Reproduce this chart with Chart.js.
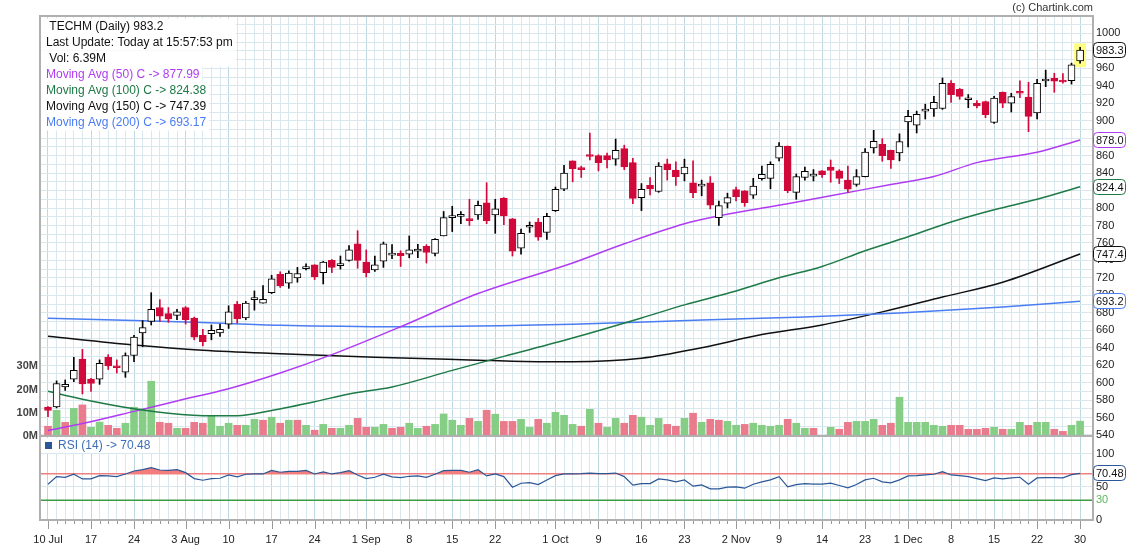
<!DOCTYPE html>
<html><head><meta charset="utf-8">
<script src="https://cdn.jsdelivr.net/npm/chart.js@4.4.0/dist/chart.umd.min.js"></script>
<style>
html,body{margin:0;padding:0;background:#fff;}
#wrap{position:relative;width:1127px;height:551px;overflow:hidden;background:#fff;}
canvas{position:absolute;left:0;}
#c1{top:0;}
#c2{top:436px;}
</style></head><body>
<div id="wrap"><canvas id="c1" width="1127" height="451"></canvas><canvas id="c2" width="1127" height="115"></canvas></div>
<script>
// ---------- DATA (TECHM daily, 10 Jul - 30 Dec) ----------
const opens = [572,572,595,604,627,604,604,629,618,612,
631,657,670,686,679,677,686,674,654,656,
657,667,690,674,695,691,703,724,714,720,
730.5,735,726,740,734,740,759,738,729,739,
746,748,747,750.5,756,748,768,789,790.5,787,
792,806,792,811.5,787.5,754,778,784,772,797,
821.5,854,846,861,860,860,856,868,852,812,
826,819,850.5,843.6,839,829,825,829,789,805.5,
821,819.6,814.6,833.7,834,857,871,818,835,836.5,
842.5,847,842.5,832,827,836,869,873,866,863,
898.6,895,911,913.5,914,943,936,924,920,922,
898,932.6,920,933,927,909,945.5,948.7,945.6,946,
968.5];
const highs = [572.5,602,603,629,638,605,626,632,626,634,
654,671,703,695,686,684,687,675,661,666,
667,688,693,693,705,711,723,727,728,732,
736,735,739,741,745,757,774,752,745,761,
758,751,768,758.5,758,765,796,802,796,810,
808,829,810,812,788,776,784,788,794,824,
849,854,848,886,861,863,879,872,857,828,
835,852,856,853,856,854,832,836,808,817,
824,820,834,848,853,875,871,839,847,844,
843,855,844,848,844,868,889,879.5,866.5,885,
912,911,919,928,949,946,937,930,923,922.5,
928,933,931.5,945.6,944,947.5,958,954.4,954,966,
984];
const lows = [561,571,591,601,587,590,598,615,611,606,
624,641,666,670,669,672,667,649,642,649,
653,662,668,672,683,691,702,709,708,715,
729,718,713,726,730,739,731,721,727.5,732,
742,733,743,743,737,745,768,773,782,780,
787,782,771,781,745,747,772,763,764,796,
820,830,835,855,842.5,846,849,844,805,797,
815,818,832,826,831,812,814,799,780,800,
808,802,811,832,822,854,817.6,810,832,831,
835,829.5,828,818,825,835.5,863,853.6,845.5,854,
870,886,902,905,913,921,924.6,915,914.6,903.5,
897,915,910,926.5,887.5,902,939,932.6,943,942,
966];
const closes = [568,599,598,614,598.5,599,622,619,617,631,
652,663,684,676,673,681,672,652,647,660,
661,681,673,691,696,695.5,719,711,725.5,725,
731,721,738,732,734.5,752,740,726,735,759,
747,745.5,752,753,749,764,789,789.5,791,785.5,
803,785.5,799,791,750.5,771,778.5,766.5,790.6,821.5,
840,845,844,859,852,855,866,847,811,821.5,
822,848,844,836,847,817.6,827,803.2,802.7,812,
813,806,825,838.7,850,871,820,836,842,837,
838.2,843,834,821.5,836,864,876.5,860,855,876,
905,907.4,913,921,943,930,928,926,917,907,
926,920,927.6,931.5,905,943,946,945.2,944.4,964,
981];
// volume in millions
const volumes = [4.2,11.1,5.9,11.9,13.4,3.75,6.0,4.6,3.3,5.5,
12.4,11.8,23.6,5.9,5.5,3.3,3.3,5.9,5.5,8.9,
4.2,5.5,4.6,4.6,7.2,6.8,8.1,5.5,6.8,6.8,
4.6,2.5,5.0,3.3,3.3,4.6,7.6,3.75,3.75,5.0,
3.3,3.75,5.5,3.3,4.2,5.0,9.5,6.8,4.6,7.6,
6.3,11.1,9.4,6.3,6.3,7.2,3.75,7.2,5.5,10.2,
8.9,5.0,4.2,11.5,5.5,3.75,7.6,5.5,8.9,8.1,
4.6,7.6,5.0,4.2,7.6,9.8,5.9,7.2,6.8,6.3,
4.6,5.0,5.5,4.6,4.2,4.6,7.2,5.5,3.3,3.3,
0.1,3.75,2.9,5.9,6.3,6.3,7.2,4.6,5.5,16.7,
5.9,5.9,5.9,4.6,4.2,4.6,4.6,2.9,2.9,3.3,
3.75,2.9,2.9,5.9,4.6,5.9,5.9,2.9,2.0,4.6,
6.39];
const rsi = [54.1,65.6,64.6,69.2,62.1,62.1,67.1,66.6,65.6,69.6,
74.1,76.1,79.1,75.6,75.1,76.1,71.6,62.6,60.1,62.6,
63.1,68.1,65.1,69.2,69.6,69.6,75.1,72.2,73.6,73.6,
75.1,69.6,72.6,69.6,71.6,74.6,68.1,62.6,64.6,69.2,
65.1,64.1,66.1,66.6,64.6,69.2,74.6,75.1,75.1,72.2,
76.1,66.6,69.6,65.6,49.6,55.6,56.6,53.6,60.6,67.1,
69.6,69.6,70.1,71.0,70.1,70.1,71.0,65.6,52.6,55.1,
55.1,62.1,60.6,57.6,60.6,51.1,53.1,47.1,47.1,49.6,
50.1,48.1,54.1,57.6,60.6,65.6,50.1,53.6,55.1,54.1,
54.1,55.6,52.1,48.6,53.6,60.6,63.1,57.6,56.1,60.6,
66.6,67.1,68.1,69.2,73.1,68.1,67.1,65.6,62.6,59.6,
63.6,62.1,63.6,64.6,54.1,63.6,64.1,64.1,63.6,68.6,
70.48];
// moving averages read at trading-day positions
const ma50Idx = [0,4,10,15,21,27,33,41,50,61,67,74,78,86,91,98,103,108,115,120];
const ma50Val = [545,553,567,579,593,611,632,664,702,737,759,782,791,805,814,827,836,852,864,878];
const ma100Idx = [0,4,10,14,19,22,26,31,35,40,47,53,61,69,74,80,85,90,95,100,105,110,115,120];
const ma100Val = [590,581,570,565,562,562,568,578,587,595,614,630,651,674,689,705,720,733,751,767,784,798,810,824.4];
const ma150Idx = [0,10,18,27,38,49,57,61,69,76,83,90,97,104,111,120];
const ma150Val = [653,643,637,633,629,626,624,624,628,640,655,666,681,698,715,747.4];
const ma200Idx = [0,10,18,27,41,61,76,88,99,111,120];
const ma200Val = [673.7,671,668.7,665.7,664,666.8,671.7,675.2,679.8,686.7,693.2];
// axis labels
const dateLabelIdx = [0,5,10,16,21,26,31,37,42,47,52,59,64,69,74,80,85,90,95,100,105,110,115,120];
const dateLabelText = ['10 Jul','17','24','3 Aug','10','17','24','1 Sep','8','15','22','1 Oct','9','16','23','2 Nov','9','14','23','1 Dec','8','15','22','30'];
const priceTickLabels = [540,560,580,600,620,640,660,680,700,720,740,760,780,800,820,840,860,880,900,920,940,960,980,1000];
const volTickLabels = [0,10,20,30];
const rsiTickLabels = [0,30,50,100];
const titleLines = [' TECHM (Daily) 983.2','Last Update: Today at 15:57:53 pm',' Vol: 6.39M',
  'Moving Avg (50) C -> 877.99','Moving Avg (100) C -> 824.38','Moving Avg (150) C -> 747.39','Moving Avg (200) C -> 693.17'];
const lastBoxText = ['983.3','878.0','824.4','747.4','693.2'];
const rsiBoxText = '70.48';

// ---------- STYLE ----------
const FONT = '"Liberation Sans", Arial, Helvetica, sans-serif';
Chart.defaults.font.family = FONT;
Chart.defaults.font.size = 11;
Chart.defaults.color = '#333';
const C50='#b03cf2', C100='#1e7a46', C150='#111111', C200='#4a7cf2';
const DOWN='#d1093b', VOL_UP='#86cd86', VOL_DN='#e97b8d';
const GRID='#d8e8ee', GRID_DARK='#bfd7e0', FRAME='#b0b0b0';
const X_MIN=-0.93, X_MAX=121.5;
const N = closes.length;
const days = Array.from({length:N},(_,i)=>i);
const labelMap = new Map(dateLabelIdx.map((v,i)=>[v,dateLabelText[i]]));
const isUp = days.map(i=>closes[i]>=opens[i]);
const volColors = days.map(i=> i===0 ? VOL_DN : (closes[i]>=closes[i-1] ? VOL_UP : VOL_DN));
const gridX = ctx => (ctx.tick && labelMap.has(ctx.tick.value)) ? GRID_DARK : GRID;
const priceGrid = []; for (let v=540; v<=1010; v+=10) priceGrid.push(v);
const pts = (ix, vals) => ix.map((x,i)=>({x, y: vals[i]}));

function frame(chart){
  const {ctx, chartArea:a} = chart;
  ctx.save(); ctx.strokeStyle=FRAME; ctx.lineWidth=2;
  ctx.strokeRect(a.left, a.top, a.right-a.left, a.bottom-a.top);
  ctx.restore();
}
function valueBox(ctx, y, text, color){
  ctx.save();
  ctx.beginPath();
  ctx.roundRect(1093.5, Math.round(y)-7.5, 32, 15, 4);
  ctx.fillStyle='#fff'; ctx.fill();
  ctx.lineWidth=1; ctx.strokeStyle=color; ctx.stroke();
  ctx.fillStyle='#111'; ctx.font='11px '+FONT; ctx.textBaseline='middle'; ctx.textAlign='left';
  ctx.fillText(text, 1096, Math.round(y)+0.5);
  ctx.restore();
}

const overlay1 = {
  id:'overlay1',
  beforeDatasetsDraw(chart){
    const {ctx, chartArea:a, scales} = chart;
    ctx.save();
    const li = N-1, cx = scales.x.getPixelForValue(li);
    const t = scales.y.getPixelForValue(highs[li])-4, b = scales.y.getPixelForValue(lows[li])+4;
    ctx.fillStyle='#ffff80'; ctx.fillRect(cx-6, t, 12, b-t);
    ctx.font='12px '+FONT; ctx.textBaseline='middle'; ctx.textAlign='left';
    const colors=['#111','#111','#111',C50,C100,C150,C200];
    const blockW = Math.max(...titleLines.slice(0,3).map(s=>ctx.measureText(s).width));
    titleLines.forEach((s,i)=>{
      const y = 26.5 + 16*i;
      const w = i<3 ? blockW : ctx.measureText(s).width;
      ctx.fillStyle='#fff'; ctx.fillRect(a.left+1, y-8, 46-(a.left+1)+w+3, 16);
      ctx.fillStyle=colors[i]; ctx.fillText(s, 46, y);
    });
    ctx.restore();
  },
  afterDraw(chart){
    const {ctx, scales} = chart;
    frame(chart);
    const ys = scales.y;
    const vals = [closes[N-1], ma50Val[ma50Val.length-1], ma100Val[ma100Val.length-1], ma150Val[ma150Val.length-1], ma200Val[ma200Val.length-1]];
    const cols = ['#111', C50, C100, '#111', C200];
    vals.forEach((v,i)=>valueBox(ctx, ys.getPixelForValue(v), lastBoxText[i], cols[i]));
    ctx.save(); ctx.font='11px '+FONT; ctx.fillStyle='#333'; ctx.textAlign='right'; ctx.textBaseline='middle';
    ctx.fillText('(c) Chartink.com', 1093, 7.5); ctx.restore();
  }
};

new Chart(document.getElementById('c1'), {
  type:'bar',
  data:{datasets:[
    {type:'bar', data: days.map(i=>({x:i,y:volumes[i]})), yAxisID:'yv', backgroundColor: volColors, barThickness:7, grouped:false, order:10},
    {type:'line', data: pts(ma200Idx, ma200Val), yAxisID:'y', borderColor:C200, borderWidth:1.5, pointRadius:0, cubicInterpolationMode:'monotone', order:6},
    {type:'line', data: pts(ma150Idx, ma150Val), yAxisID:'y', borderColor:C150, borderWidth:1.5, pointRadius:0, cubicInterpolationMode:'monotone', order:6},
    {type:'line', data: pts(ma100Idx, ma100Val), yAxisID:'y', borderColor:C100, borderWidth:1.5, pointRadius:0, cubicInterpolationMode:'monotone', order:5},
    {type:'line', data: pts(ma50Idx, ma50Val), yAxisID:'y', borderColor:C50, borderWidth:1.5, pointRadius:0, cubicInterpolationMode:'monotone', order:5},
    {type:'bar', data: days.map(i=>({x:i,y:[lows[i],highs[i]]})), yAxisID:'y', backgroundColor: days.map(i=>isUp[i]?'#000':DOWN), barThickness:1, grouped:false, order:2},
    {type:'bar', data: days.map(i=>({x:i,y:[opens[i],closes[i]]})), yAxisID:'y', backgroundColor: days.map(i=>isUp[i]?'#fff':DOWN), borderColor: days.map(i=>isUp[i]?'#000':DOWN), borderWidth:1, borderSkipped:false, barThickness:7, minBarLength:2, grouped:false, order:1}
  ]},
  options:{
    responsive:false, animation:false, devicePixelRatio:1,
    layout:{autoPadding:false, padding:{top:16,bottom:15,left:0,right:0}},
    plugins:{legend:{display:false}, tooltip:{enabled:false}},
    scales:{
      x:{type:'linear', min:X_MIN, max:X_MAX, offset:false,
        afterBuildTicks:s=>{s.ticks=days.map(v=>({value:v}));},
        ticks:{display:false}, grid:{color:gridX, drawTicks:false, offset:false}, border:{display:false},
        afterFit:s=>{s.height=0; s.paddingLeft=0; s.paddingRight=0;}},
      y:{position:'right', min:538.8, max:1020,
        afterBuildTicks:s=>{s.ticks=priceGrid.map(v=>({value:v}));},
        ticks:{autoSkip:false, padding:3, color:'#222', font:{size:11}, callback:v=>priceTickLabels.includes(v)?String(v):''},
        grid:{color:GRID, drawTicks:false}, border:{display:false},
        afterFit:s=>{s.width=34; s.paddingTop=0; s.paddingBottom=0;}},
      yv:{position:'left', min:0, max:181,
        afterBuildTicks:s=>{s.ticks=volTickLabels.map(v=>({value:v}));},
        ticks:{autoSkip:false, padding:2, color:'#444', font:{size:11, weight:'bold'}, callback:v=>v+'M'},
        grid:{display:false, drawTicks:false}, border:{display:false},
        afterFit:s=>{s.width=40; s.paddingTop=0; s.paddingBottom=0;}}
    }
  },
  plugins:[overlay1]
});

const overlay2 = {
  id:'overlay2',
  beforeDatasetsDraw(chart){
    const {ctx, chartArea:a, scales} = chart;
    ctx.save(); ctx.lineWidth=1.5;
    const y70 = scales.y.getPixelForValue(70), y30 = scales.y.getPixelForValue(30);
    ctx.strokeStyle='#f08080'; ctx.beginPath(); ctx.moveTo(a.left,y70); ctx.lineTo(a.right,y70); ctx.stroke();
    ctx.strokeStyle='#3f9a45'; ctx.beginPath(); ctx.moveTo(a.left,y30); ctx.lineTo(a.right,y30); ctx.stroke();
    ctx.restore();
  },
  afterDraw(chart){
    const {ctx, chartArea:a, scales} = chart;
    frame(chart);
    ctx.save();
    ctx.strokeStyle='#999'; ctx.lineWidth=1;
    days.forEach(i=>{
      const x = Math.round(scales.x.getPixelForValue(i))+0.5;
      const len = labelMap.has(i) ? 8 : 3;
      ctx.beginPath(); ctx.moveTo(x, a.bottom+1); ctx.lineTo(x, a.bottom+1+len); ctx.stroke();
    });
    ctx.font='12px '+FONT; ctx.textBaseline='middle'; ctx.textAlign='left';
    const lbl = 'RSI (14) -> ' + rsiBoxText;
    const w = ctx.measureText(lbl).width;
    ctx.fillStyle='#fff'; ctx.fillRect(42, 2, 58-42+w+3, 15);
    ctx.fillStyle='#2b5797'; ctx.fillRect(45, 6, 7, 7);
    ctx.fillStyle='#3d6fb8'; ctx.fillText(lbl, 58, 9.5);
    ctx.restore();
    valueBox(ctx, scales.y.getPixelForValue(rsi[N-1]), rsiBoxText, '#2b5797');
  }
};

new Chart(document.getElementById('c2'), {
  type:'line',
  data:{datasets:[{data: days.map(i=>({x:i,y:rsi[i]})), yAxisID:'y', borderColor:'#2b5797', borderWidth:1.2, pointRadius:0, tension:0,
    fill:{target:{value:70}, above:'#f47c7c', below:'rgba(0,0,0,0)'}}]},
  options:{
    responsive:false, animation:false, devicePixelRatio:1,
    layout:{autoPadding:false, padding:{top:0,bottom:0,left:0,right:0}},
    plugins:{legend:{display:false}, tooltip:{enabled:false}},
    scales:{
      x:{type:'linear', min:X_MIN, max:X_MAX, offset:false,
        afterBuildTicks:s=>{s.ticks=days.map(v=>({value:v}));},
        ticks:{autoSkip:false, maxRotation:0, minRotation:0, padding:13, color:'#222', font:{size:11}, callback:v=>labelMap.get(v)||''},
        grid:{color:gridX, drawTicks:false, offset:false}, border:{display:false},
        afterFit:s=>{s.height=31; s.paddingLeft=0; s.paddingRight=0;}},
      y:{position:'right', min:0, max:127,
        afterBuildTicks:s=>{s.ticks=rsiTickLabels.map(v=>({value:v}));},
        ticks:{autoSkip:false, padding:3, font:{size:11}, color:ctx=>ctx.tick && ctx.tick.value===30 ? '#5cb85c' : '#222', callback:v=>String(v)},
        grid:{drawTicks:false, color:ctx=>(ctx.tick && (ctx.tick.value===50||ctx.tick.value===100)) ? GRID : 'rgba(0,0,0,0)'},
        border:{display:false},
        afterFit:s=>{s.width=34; s.paddingTop=0; s.paddingBottom=0;}},
      yl:{position:'left', min:0, max:1, ticks:{display:false}, grid:{display:false, drawTicks:false}, border:{display:false},
        afterFit:s=>{s.width=40; s.paddingTop=0; s.paddingBottom=0;}}
    }
  },
  plugins:[overlay2]
});
</script>
</body></html>
